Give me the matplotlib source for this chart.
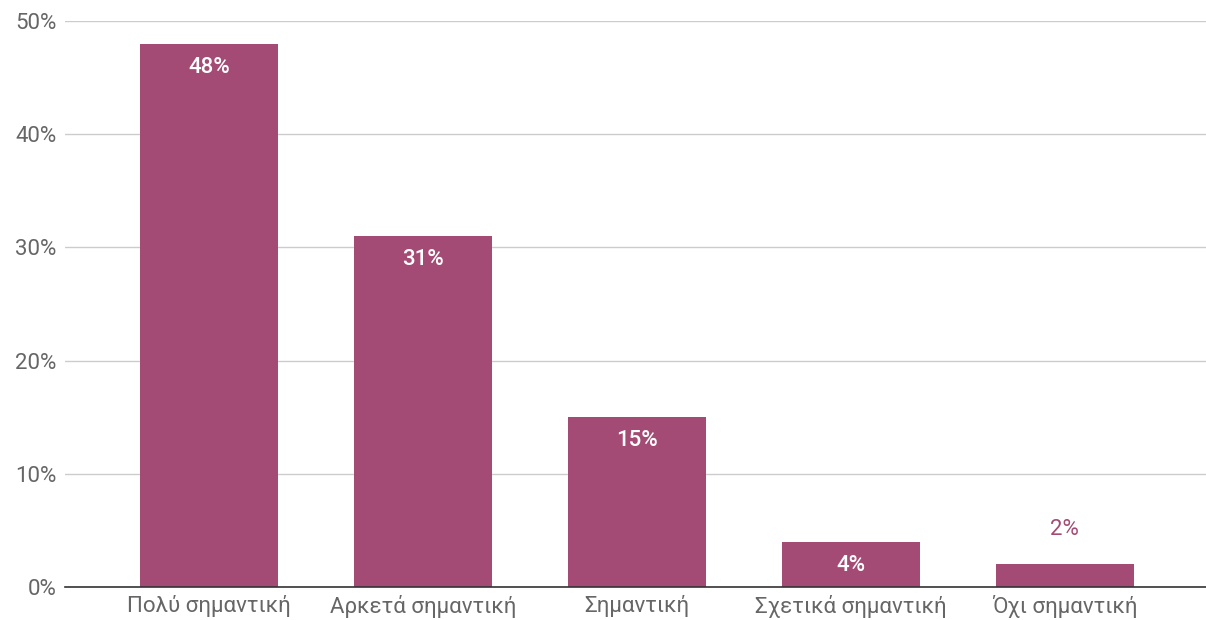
import matplotlib
matplotlib.use("Agg")
import matplotlib.pyplot as plt
from matplotlib.ticker import FuncFormatter

categories = ["Πολύ σημαντική", "Αρκετά σημαντική", "Σημαντική", "Σχετικά σημαντική", "Όχι σημαντική"]
values = [48, 31, 15, 4, 2]
labels = ["48%", "31%", "15%", "4%", "2%"]
yticks = [0, 10, 20, 30, 40, 50]

plt.rcParams['font.family'] = ['Roboto', 'DejaVu Sans']
color = "#A34B74"

fig = plt.figure(figsize=(12.06, 6.2), dpi=100)
ax = fig.add_axes([0.054, 0.0532, 0.946, 0.9128])
x = list(range(len(categories)))
ax.bar(x, values, width=0.645, color=color, zorder=3)
ax.set_xlim(-0.673, 4.66)
ax.set_ylim(0, 50)
ax.set_yticks(yticks)
ax.yaxis.set_major_formatter(FuncFormatter(lambda v, p: f"{int(v)}%"))
ax.set_xticks(x)
ax.set_xticklabels(categories)
ax.tick_params(axis='both', length=0, labelsize=16, colors="#666666")
ax.tick_params(axis='y', pad=6)
ax.tick_params(axis='x', pad=6)
for s in ["top", "right", "left"]:
    ax.spines[s].set_visible(False)
ax.spines["bottom"].set_color("#333333")
ax.spines["bottom"].set_linewidth(1.2)
ax.spines["bottom"].set_zorder(4)
ax.grid(axis='y', color="#cccccc", linewidth=1, zorder=0)

for xi, v, lab in zip(x, values, labels):
    if v >= 4:
        ax.annotate(lab, (xi, v), xytext=(0, -17), textcoords="offset points",
                    ha="center", va="center", color="white", fontsize=16, fontweight="medium", zorder=5)
    else:
        ax.annotate(lab, (xi, v), xytext=(0, 25), textcoords="offset points",
                    ha="center", va="center", color=color, fontsize=16, zorder=5)

fig.savefig("out.png", dpi=100)
